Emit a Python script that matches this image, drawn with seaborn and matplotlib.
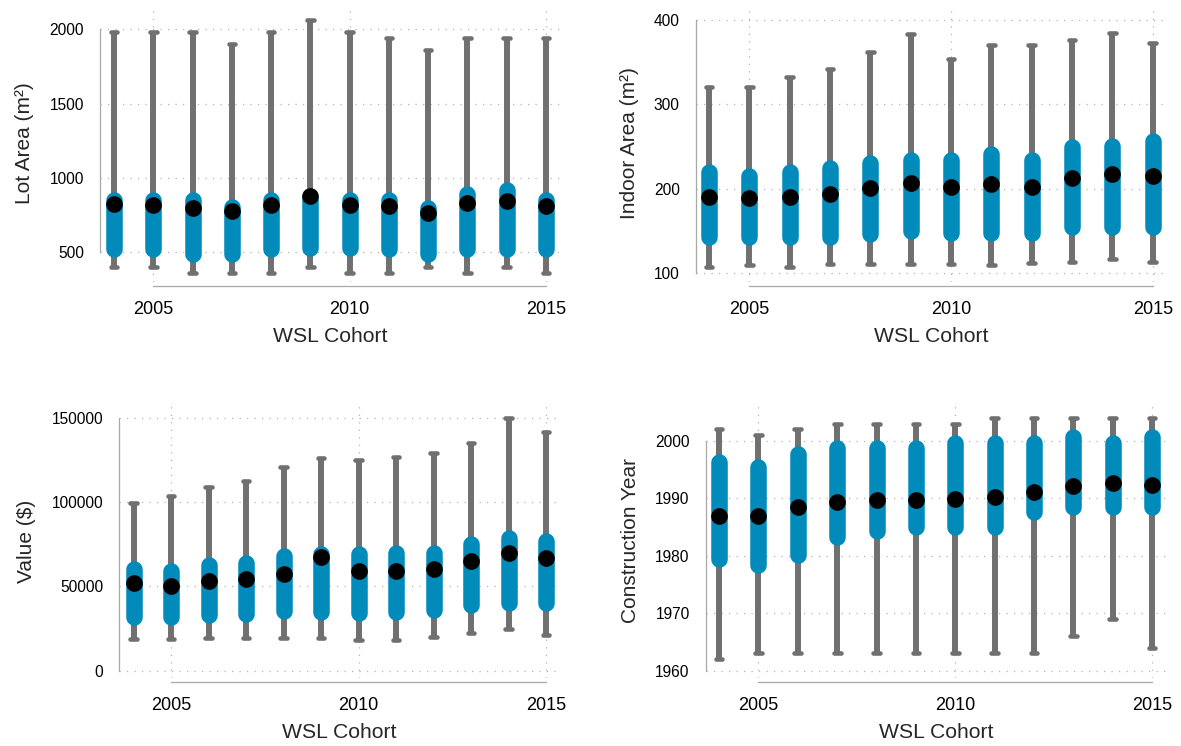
import numpy as np
import matplotlib
matplotlib.use('Agg')
import matplotlib.pyplot as plt
import seaborn as sns

# WSL cohorts
years = [2004, 2005, 2006, 2007, 2008, 2009, 2010, 2011, 2012, 2013, 2014, 2015]

# Lot area (m2): min, q1, median, q3, max
lot_min = [400, 400, 360, 360, 360, 400, 360, 360, 400, 360, 400, 360]
lot_q1 = [525, 525, 490, 487, 525, 530, 529, 525, 490, 525, 525, 525]
lot_med = [825, 815, 800, 775, 815, 880, 820, 810, 765, 830, 845, 810]
lot_q3 = [850, 850, 850, 805, 850, 860, 850, 850, 800, 890, 920, 850]
lot_max = [1980, 1980, 1980, 1900, 1980, 2060, 1980, 1940, 1860, 1940, 1940, 1940]

# Indoor area (m2)
in_min = [107, 109, 107, 110, 110, 110, 110, 109, 111, 113, 116, 113]
in_q1 = [142, 142, 142, 142, 146, 149, 147, 147, 147, 154, 154, 154]
in_med = [190, 189, 190, 194, 201, 206, 202, 205, 202, 213, 217, 215]
in_q3 = [220, 215, 220, 224, 230, 234, 234, 241, 234, 249, 251, 256]
in_max = [321, 321, 332, 342, 362, 384, 354, 370, 371, 377, 385, 373]

# Value ($)
val_min = [18600, 18600, 19200, 19200, 19200, 19200, 18200, 18200, 19800, 22500, 24500, 21200]
val_q1 = [31800, 31800, 33200, 33800, 35200, 34800, 34200, 34800, 35800, 39100, 40300, 40300]
val_med = [51800, 50400, 53200, 54600, 57300, 67600, 59100, 59300, 60300, 65000, 70000, 67000]
val_q3 = [60500, 59300, 62900, 63900, 67800, 69200, 69400, 69500, 69500, 75300, 78700, 76700]
val_max = [99600, 103600, 109100, 112500, 121000, 125900, 124900, 126900, 128900, 134800, 150000, 141700]

# Construction year
yr_min = [1962, 1963, 1963, 1963, 1963, 1963, 1963, 1963, 1963, 1966, 1969, 1964]
yr_q1 = [1979.5, 1978.3, 1980.2, 1983.3, 1984.3, 1985.0, 1985.0, 1985.0, 1987.6, 1988.5, 1988.5, 1988.5]
yr_med = [1987.0, 1987.0, 1988.4, 1989.3, 1989.7, 1989.7, 1989.9, 1990.2, 1991.1, 1992.2, 1992.6, 1992.4]
yr_q3 = [1996.4, 1995.5, 1997.7, 1998.7, 1998.7, 1998.7, 1999.6, 1999.6, 1999.6, 2000.6, 1999.6, 2000.6]
yr_max = [2002, 2001, 2002, 2003, 2003, 2003, 2003, 2004, 2004, 2004, 2004, 2004]

sns.set_style('white')
plt.rcParams['font.family'] = ['Liberation Sans', 'DejaVu Sans']

GRAY = '#707070'
BLUE = '#008bbb'
AXC = '#a8a8a8'
W, H = 1181, 746

fig = plt.figure(figsize=(11.81, 7.46), dpi=100)


def box(l, t, r, b):
    return [l / W, (H - b) / H, (r - l) / W, (b - t) / H]


def panel(rect, lo, q1, med, q3, hi, yticks, ylim, xlim, ylabel):
    ax = fig.add_axes(rect)
    # dotted grid
    for yt in yticks:
        ax.axhline(yt, color='#b5b5b5', lw=0.9, ls=(0, (1, 5)), zorder=0)
    for xt in [2005, 2010, 2015]:
        ax.axvline(xt, color='#b5b5b5', lw=0.9, ls=(0, (1, 5)), zorder=0)
    # whiskers + caps
    wl = ax.vlines(years, lo, hi, color=GRAY, lw=4.3, zorder=1)
    wl.set_capstyle('butt')
    for ends in (lo, hi):
        c = ax.hlines(ends, np.array(years) - 0.085, np.array(years) + 0.085,
                      color=GRAY, lw=3.3, zorder=1)
        c.set_capstyle('round')
    # inter-quartile bar
    b = ax.vlines(years, q1, q3, color=BLUE, lw=11.9, zorder=2)
    b.set_capstyle('round')
    sns.scatterplot(x=years, y=med, ax=ax, color='black', s=145,
                    linewidth=0, zorder=4, legend=False)
    ax.set_xlim(*xlim)
    ax.set_ylim(*ylim)
    ax.set_yticks(yticks)
    ax.set_xticks([2005, 2010, 2015])
    for s in ['top', 'right']:
        ax.spines[s].set_visible(False)
    ax.spines['left'].set_bounds(yticks[0], yticks[-1])
    ax.spines['bottom'].set_bounds(2005, 2015)
    ax.spines['bottom'].set_position(('outward', 3))
    for s in ['left', 'bottom']:
        ax.spines[s].set_color(AXC)
        ax.spines[s].set_linewidth(0.9)
    ax.tick_params(axis='both', length=6.5, width=0.9, color=AXC,
                   labelcolor='black')
    ax.tick_params(axis='y', labelsize=11.2, pad=5)
    ax.tick_params(axis='x', labelsize=13, pad=4)
    ax.set_xlabel('WSL Cohort', fontsize=15.2, labelpad=7)
    ax.set_ylabel(ylabel, fontsize=15, labelpad=11)
    ax.grid(False)
    return ax


panel(box(100, 5, 560, 282), lot_min, lot_q1, lot_med, lot_q3, lot_max,
      [500, 1000, 1500, 2000], (300, 2163), (2003.64, 2015.36), 'Lot Area (m²)')
panel(box(695.7, 5, 1166, 282), in_min, in_q1, in_med, in_q3, in_max,
      [100, 200, 300, 400], (89, 418), (2003.67, 2015.33), 'Indoor Area (m²)')
panel(box(119.3, 405, 560, 678), val_min, val_q1, val_med, val_q3, val_max,
      [0, 50000, 100000, 150000], (-4300, 157500), (2003.62, 2015.37), 'Value ($)')
panel(box(705.7, 403, 1166.7, 678), yr_min, yr_q1, yr_med, yr_q3, yr_max,
      [1960, 1970, 1980, 1990, 2000], (1958.7, 2006.6), (2003.66, 2015.37), 'Construction Year')

fig.savefig('out.png', dpi=100)
